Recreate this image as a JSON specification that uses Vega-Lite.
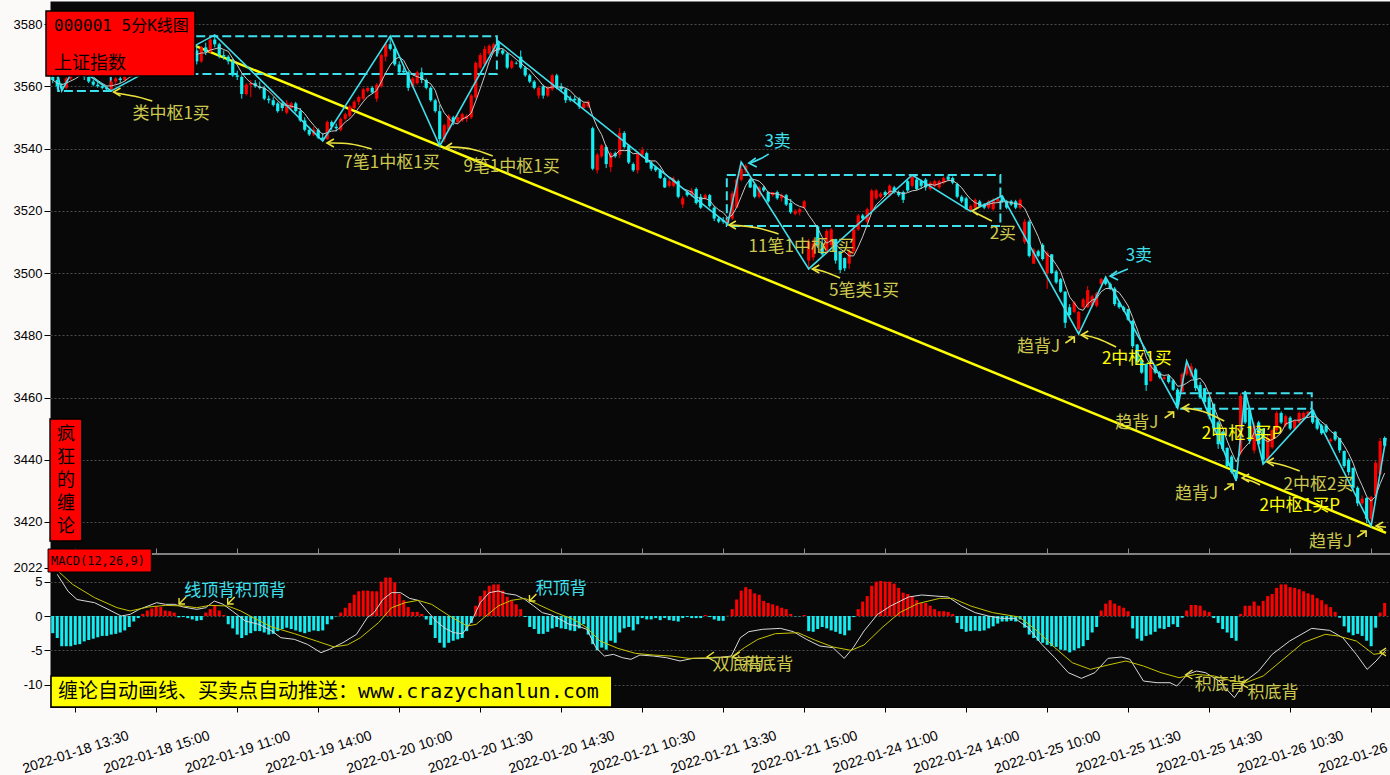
{
"$schema": "https://vega.github.io/schema/vega-lite/v6.json",
"background": "#fcf9f9",
"padding": {"left": 10, "top": 0, "right": 0, "bottom": 0},
"spacing": 1,
"bounds": "flush",
"config": {
  "view": {"fill": "#080808", "stroke": "transparent"},
  "axis": {"labelFont": "Liberation Sans", "labelColor": "#000000", "tickColor": "#000000", "domain": false},
  "text": {"font": "Noto Sans CJK SC"}
},
"datasets": {
"k": [
{"i":0,"o":3563,"h":3564,"l":3561,"c":3562,"m":-2.5},
{"i":1,"o":3562,"h":3563,"l":3559,"c":3560,"m":-3.2},
{"i":2,"o":3560,"h":3561,"l":3558.5,"c":3559.5,"m":-4.4},
{"i":3,"o":3559.5,"h":3563,"l":3559,"c":3562.5,"m":-4.4},
{"i":4,"o":3562.5,"h":3565,"l":3562,"c":3564.5,"m":-4.4},
{"i":5,"o":3564.5,"h":3566,"l":3563.5,"c":3565.5,"m":-4.2},
{"i":6,"o":3565.5,"h":3567,"l":3564,"c":3564.5,"m":-4.1},
{"i":7,"o":3564.5,"h":3565,"l":3562,"c":3563,"m":-3.7},
{"i":8,"o":3563,"h":3564,"l":3561,"c":3561.5,"m":-3.5},
{"i":9,"o":3561.5,"h":3562,"l":3560,"c":3560.5,"m":-3.3},
{"i":10,"o":3560.5,"h":3561.5,"l":3559.5,"c":3560,"m":-3.1},
{"i":11,"o":3560,"h":3561,"l":3559,"c":3559.5,"m":-2.9},
{"i":12,"o":3559.5,"h":3560,"l":3558.6,"c":3559,"m":-2.9},
{"i":13,"o":3559,"h":3562,"l":3558.5,"c":3561.5,"m":-2.7},
{"i":14,"o":3561.5,"h":3563,"l":3560.5,"c":3562.5,"m":-2.6},
{"i":15,"o":3562.5,"h":3563.5,"l":3561,"c":3562,"m":-2.4},
{"i":16,"o":3562,"h":3564,"l":3561.5,"c":3563.5,"m":-2.1},
{"i":17,"o":3563.5,"h":3565,"l":3563,"c":3564.5,"m":-1.6},
{"i":18,"o":3564.5,"h":3566,"l":3564,"c":3565.5,"m":-0.8},
{"i":19,"o":3565.5,"h":3567,"l":3565,"c":3566.5,"m":-0.3},
{"i":20,"o":3566.5,"h":3568,"l":3565.5,"c":3567.5,"m":0.3},
{"i":21,"o":3567.5,"h":3569,"l":3566.5,"c":3568,"m":0.8},
{"i":22,"o":3568,"h":3569.5,"l":3567,"c":3567.5,"m":1.1},
{"i":23,"o":3567.5,"h":3568.5,"l":3566,"c":3567,"m":1.4},
{"i":24,"o":3567,"h":3569,"l":3566.5,"c":3568.5,"m":1.3},
{"i":25,"o":3568.5,"h":3570,"l":3568,"c":3569.5,"m":0.8},
{"i":26,"o":3569.5,"h":3571,"l":3568.5,"c":3570,"m":0.7},
{"i":27,"o":3570,"h":3571,"l":3569,"c":3569.5,"m":0.5},
{"i":28,"o":3569.5,"h":3570.5,"l":3568.5,"c":3570,"m":-0.2},
{"i":29,"o":3570,"h":3571.5,"l":3569.5,"c":3571,"m":-0.15},
{"i":30,"o":3571,"h":3572,"l":3570,"c":3570.5,"m":-0.3},
{"i":31,"o":3570.5,"h":3572,"l":3569.5,"c":3571.5,"m":-0.5},
{"i":32,"o":3571.5,"h":3573,"l":3567,"c":3568,"m":-0.7},
{"i":33,"o":3568,"h":3573,"l":3567.5,"c":3572.5,"m":-0.6},
{"i":34,"o":3572.5,"h":3574,"l":3570,"c":3571,"m":0.5},
{"i":35,"o":3571,"h":3575.5,"l":3570.5,"c":3575,"m":1.0},
{"i":36,"o":3575,"h":3576.5,"l":3572.5,"c":3573.5,"m":1.6},
{"i":37,"o":3573.5,"h":3574,"l":3569,"c":3570,"m":0.8},
{"i":38,"o":3570,"h":3571.5,"l":3568.5,"c":3569.5,"m":0.15},
{"i":39,"o":3569.5,"h":3570,"l":3567,"c":3568,"m":-1.2},
{"i":40,"o":3568,"h":3569,"l":3563,"c":3563.5,"m":-1.8},
{"i":41,"o":3563.5,"h":3565,"l":3562,"c":3563,"m":-2.7},
{"i":42,"o":3563,"h":3563.5,"l":3556,"c":3557.5,"m":-3.2},
{"i":43,"o":3557.5,"h":3561,"l":3557,"c":3560.5,"m":-2.8},
{"i":44,"o":3560.5,"h":3562,"l":3556.5,"c":3561,"m":-2.5},
{"i":45,"o":3561,"h":3562,"l":3559.5,"c":3560,"m":-2.2},
{"i":46,"o":3560,"h":3561.5,"l":3559,"c":3559.5,"m":-2.2},
{"i":47,"o":3559.5,"h":3560,"l":3555.5,"c":3556,"m":-2.4},
{"i":48,"o":3556,"h":3557,"l":3554.5,"c":3555.5,"m":-2.7},
{"i":49,"o":3555.5,"h":3556.5,"l":3553.5,"c":3554,"m":-2.6},
{"i":50,"o":3554.5,"h":3555,"l":3551.5,"c":3552,"m":-2.2},
{"i":51,"o":3554.5,"h":3555,"l":3552,"c":3553,"m":-1.9},
{"i":52,"o":3551.5,"h":3555.5,"l":3551,"c":3554.5,"m":-1.7},
{"i":53,"o":3553,"h":3555,"l":3552.5,"c":3554.5,"m":-1.9},
{"i":54,"o":3554.5,"h":3555,"l":3551.5,"c":3552,"m":-2.1},
{"i":55,"o":3552,"h":3553,"l":3548.5,"c":3549,"m":-2.3},
{"i":56,"o":3549,"h":3550,"l":3545.5,"c":3546,"m":-2.5},
{"i":57,"o":3546,"h":3547,"l":3544,"c":3544.5,"m":-2.3},
{"i":58,"o":3544.5,"h":3547,"l":3544,"c":3546,"m":-2.1},
{"i":59,"o":3546,"h":3546.5,"l":3543,"c":3543.5,"m":-2.2},
{"i":60,"o":3543.5,"h":3545,"l":3542.4,"c":3543,"m":-2.1},
{"i":61,"o":3543,"h":3549,"l":3542.8,"c":3548.5,"m":-1.2},
{"i":62,"o":3548.5,"h":3549,"l":3546,"c":3547,"m":-0.5},
{"i":63,"o":3547,"h":3548,"l":3545.5,"c":3546.5,"m":-0.05},
{"i":64,"o":3546,"h":3550,"l":3545.5,"c":3549.5,"m":0.5},
{"i":65,"o":3549.5,"h":3551.5,"l":3549,"c":3551,"m":1.2},
{"i":66,"o":3550.5,"h":3554,"l":3550,"c":3553.5,"m":1.9},
{"i":67,"o":3553,"h":3555.5,"l":3552.5,"c":3555,"m":3.1},
{"i":68,"o":3555,"h":3557,"l":3554,"c":3556.5,"m":3.6},
{"i":69,"o":3556,"h":3559.5,"l":3555.5,"c":3559,"m":3.7},
{"i":70,"o":3558.5,"h":3559.5,"l":3558,"c":3559.5,"m":3.7},
{"i":71,"o":3559.5,"h":3560,"l":3557.5,"c":3558,"m":3.6},
{"i":72,"o":3556,"h":3561,"l":3555,"c":3560.5,"m":3.6},
{"i":73,"o":3560,"h":3570.5,"l":3559.5,"c":3570,"m":5.0},
{"i":74,"o":3569.5,"h":3574,"l":3568,"c":3573.5,"m":5.6},
{"i":75,"o":3573.5,"h":3576.1,"l":3571.5,"c":3572,"m":5.6},
{"i":76,"o":3572,"h":3572.5,"l":3566.5,"c":3567,"m":4.9},
{"i":77,"o":3567,"h":3568,"l":3564,"c":3564.5,"m":3.2},
{"i":78,"o":3565,"h":3566,"l":3564,"c":3564.5,"m":2.3},
{"i":79,"o":3564.5,"h":3565,"l":3558.5,"c":3559.5,"m":1.3},
{"i":80,"o":3560,"h":3563,"l":3559.5,"c":3562.5,"m":0.6},
{"i":81,"o":3561,"h":3565,"l":3560.5,"c":3564.5,"m":0.6},
{"i":82,"o":3564.5,"h":3566,"l":3561,"c":3562,"m":0.3},
{"i":83,"o":3562,"h":3562.5,"l":3559,"c":3559.5,"m":-0.5},
{"i":84,"o":3559.5,"h":3560,"l":3555,"c":3555.5,"m":-1.3},
{"i":85,"o":3555.5,"h":3556,"l":3551.5,"c":3552,"m":-3.2},
{"i":86,"o":3552,"h":3554,"l":3540.8,"c":3543,"m":-3.9},
{"i":87,"o":3543,"h":3548,"l":3542,"c":3547.5,"m":-4.6},
{"i":88,"o":3546,"h":3551,"l":3545.5,"c":3550.5,"m":-3.9},
{"i":89,"o":3550,"h":3550.5,"l":3547.5,"c":3548.5,"m":-3.6},
{"i":90,"o":3548.5,"h":3551,"l":3548,"c":3550,"m":-3.4},
{"i":91,"o":3549,"h":3551.5,"l":3548.5,"c":3551,"m":-3.2},
{"i":92,"o":3549.5,"h":3551,"l":3548.5,"c":3550.5,"m":-2.2},
{"i":93,"o":3550,"h":3557.5,"l":3549.5,"c":3557,"m":-1.0},
{"i":94,"o":3556.5,"h":3568,"l":3556,"c":3567.5,"m":1.5},
{"i":95,"o":3566,"h":3570.7,"l":3565.5,"c":3570,"m":2.9},
{"i":96,"o":3567,"h":3573,"l":3566.5,"c":3572,"m":3.7},
{"i":97,"o":3570.5,"h":3573.5,"l":3570,"c":3573,"m":4.4},
{"i":98,"o":3571,"h":3574,"l":3570.5,"c":3573.5,"m":4.6},
{"i":99,"o":3574,"h":3574.5,"l":3570.5,"c":3571.5,"m":4.6},
{"i":100,"o":3571.5,"h":3572,"l":3570,"c":3570.5,"m":3.7},
{"i":101,"o":3570.5,"h":3571,"l":3565.5,"c":3566,"m":2.8},
{"i":102,"o":3566,"h":3568.5,"l":3565.5,"c":3568,"m":2.2},
{"i":103,"o":3567.5,"h":3568,"l":3567,"c":3567.3,"m":1.7},
{"i":104,"o":3569.5,"h":3571.5,"l":3565.5,"c":3566,"m":1.0},
{"i":105,"o":3566,"h":3566.5,"l":3563,"c":3563.5,"m":-0.15},
{"i":106,"o":3563.5,"h":3564,"l":3561,"c":3561.5,"m":-1.6},
{"i":107,"o":3561.5,"h":3562,"l":3559,"c":3559.5,"m":-1.9},
{"i":108,"o":3557,"h":3560,"l":3556,"c":3559.5,"m":-2.6},
{"i":109,"o":3560,"h":3560.5,"l":3556,"c":3557,"m":-2.6},
{"i":110,"o":3557,"h":3560,"l":3556.5,"c":3559.5,"m":-2.3},
{"i":111,"o":3559,"h":3564,"l":3558.5,"c":3563.5,"m":-1.8},
{"i":112,"o":3563.5,"h":3564,"l":3559,"c":3559.5,"m":-1.6},
{"i":113,"o":3560,"h":3561,"l":3558.5,"c":3559,"m":-1.8},
{"i":114,"o":3559,"h":3559.5,"l":3554.6,"c":3555.5,"m":-1.9},
{"i":115,"o":3556,"h":3557,"l":3555,"c":3555.5,"m":-2.1},
{"i":116,"o":3556,"h":3557,"l":3555,"c":3555.5,"m":-2.2},
{"i":117,"o":3556,"h":3556.5,"l":3552.7,"c":3553.5,"m":-1.8},
{"i":118,"o":3553,"h":3555,"l":3552.5,"c":3554.5,"m":-1.2},
{"i":119,"o":3553.5,"h":3555.5,"l":3553,"c":3555,"m":-2.7},
{"i":120,"o":3546.5,"h":3547,"l":3533,"c":3533.5,"m":-4.1},
{"i":121,"o":3533,"h":3538.6,"l":3532,"c":3538,"m":-5.0},
{"i":122,"o":3537.5,"h":3541.4,"l":3537,"c":3541,"m":-4.6},
{"i":123,"o":3540.5,"h":3541,"l":3533.7,"c":3535,"m":-4.9},
{"i":124,"o":3534,"h":3539,"l":3532.5,"c":3538.5,"m":-3.6},
{"i":125,"o":3538.5,"h":3539,"l":3537,"c":3537.5,"m":-3.9},
{"i":126,"o":3538,"h":3546.6,"l":3537,"c":3545,"m":-2.4},
{"i":127,"o":3545,"h":3545.6,"l":3540,"c":3540.5,"m":-1.8},
{"i":128,"o":3541,"h":3541.4,"l":3535,"c":3535.5,"m":-1.6},
{"i":129,"o":3535,"h":3535.5,"l":3532.5,"c":3533,"m":-2.1},
{"i":130,"o":3533,"h":3539,"l":3532,"c":3538.5,"m":-1.2},
{"i":131,"o":3538,"h":3540.5,"l":3537.5,"c":3539.5,"m":-0.3},
{"i":132,"o":3538.5,"h":3539,"l":3535.3,"c":3535.5,"m":-0.5},
{"i":133,"o":3535.5,"h":3536,"l":3532.8,"c":3533.5,"m":-0.5},
{"i":134,"o":3534,"h":3534.5,"l":3532.5,"c":3533,"m":-0.3},
{"i":135,"o":3533,"h":3533.5,"l":3530.2,"c":3530.5,"m":-0.6},
{"i":136,"o":3530.5,"h":3531,"l":3527.3,"c":3527.5,"m":-0.3},
{"i":137,"o":3528,"h":3530.5,"l":3527.5,"c":3529.5,"m":-0.6},
{"i":138,"o":3528,"h":3531,"l":3527.5,"c":3530,"m":-0.7},
{"i":139,"o":3529.5,"h":3530,"l":3524,"c":3524.5,"m":-0.8},
{"i":140,"o":3522,"h":3524.7,"l":3520.9,"c":3524,"m":-0.3},
{"i":141,"o":3526,"h":3526.5,"l":3524.5,"c":3525,"m":-0.15},
{"i":142,"o":3525,"h":3527.3,"l":3524.5,"c":3526.5,"m":-0.3},
{"i":143,"o":3527,"h":3527.5,"l":3522,"c":3522.5,"m":-0.3},
{"i":144,"o":3524.5,"h":3525.4,"l":3520.6,"c":3521,"m":-0.3},
{"i":145,"o":3524,"h":3525.5,"l":3523.5,"c":3525,"m":0.15},
{"i":146,"o":3525,"h":3525.4,"l":3521,"c":3521.5,"m":-0.15},
{"i":147,"o":3521,"h":3521.5,"l":3516.7,"c":3517.5,"m":-0.5},
{"i":148,"o":3517.5,"h":3518,"l":3516,"c":3516.5,"m":-0.7},
{"i":149,"o":3517,"h":3518,"l":3515.8,"c":3516.5,"m":-0.7},
{"i":150,"o":3516,"h":3517.5,"l":3515.7,"c":3517,"m":0.05},
{"i":151,"o":3517.5,"h":3526.3,"l":3517,"c":3525.5,"m":1.0},
{"i":152,"o":3521,"h":3530.5,"l":3521,"c":3530,"m":2.4},
{"i":153,"o":3530,"h":3535.6,"l":3529.5,"c":3533.5,"m":3.7},
{"i":154,"o":3533,"h":3535,"l":3532,"c":3534.5,"m":4.2},
{"i":155,"o":3530,"h":3530.5,"l":3527.3,"c":3527.5,"m":3.9},
{"i":156,"o":3528.5,"h":3528.6,"l":3524,"c":3524.5,"m":3.3},
{"i":157,"o":3524.5,"h":3528,"l":3524,"c":3527.5,"m":3.1},
{"i":158,"o":3527.5,"h":3528,"l":3526,"c":3526.5,"m":2.2},
{"i":159,"o":3526,"h":3526.3,"l":3522.5,"c":3523,"m":1.9},
{"i":160,"o":3525,"h":3526,"l":3524.5,"c":3526,"m":1.7},
{"i":161,"o":3526,"h":3526.5,"l":3523.5,"c":3524,"m":1.5},
{"i":162,"o":3524,"h":3525.5,"l":3523,"c":3525,"m":1.2},
{"i":163,"o":3525,"h":3525.4,"l":3521.5,"c":3522,"m":1.0},
{"i":164,"o":3522.5,"h":3523.8,"l":3519,"c":3519.5,"m":0.3},
{"i":165,"o":3519,"h":3520.5,"l":3518.5,"c":3520,"m":-0.05},
{"i":166,"o":3519.5,"h":3521,"l":3518.5,"c":3520.5,"m":-0.05},
{"i":167,"o":3521,"h":3523.5,"l":3520.5,"c":3523,"m":0.15},
{"i":168,"o":3504,"h":3511,"l":3501.3,"c":3510,"m":-2.2},
{"i":169,"o":3505,"h":3511,"l":3504,"c":3509.5,"m":-2.3},
{"i":170,"o":3515,"h":3515.1,"l":3508,"c":3509,"m":-1.9},
{"i":171,"o":3509.5,"h":3511,"l":3505.5,"c":3506,"m":-1.6},
{"i":172,"o":3507,"h":3514.1,"l":3506.1,"c":3513.5,"m":-1.8},
{"i":173,"o":3509,"h":3514.4,"l":3508,"c":3514,"m":-2.1},
{"i":174,"o":3510.9,"h":3511,"l":3503,"c":3504,"m":-2.3},
{"i":175,"o":3507,"h":3507.1,"l":3500,"c":3501,"m":-2.6},
{"i":176,"o":3504.8,"h":3505,"l":3500.6,"c":3501.5,"m":-2.8},
{"i":177,"o":3503,"h":3507.7,"l":3501.3,"c":3507,"m":-2.1},
{"i":178,"o":3507,"h":3514.4,"l":3506.1,"c":3514,"m":-0.15},
{"i":179,"o":3514,"h":3519,"l":3513.5,"c":3518.5,"m":1.0},
{"i":180,"o":3518.5,"h":3519,"l":3517,"c":3517.5,"m":2.1},
{"i":181,"o":3516.5,"h":3521,"l":3516,"c":3520.5,"m":2.9},
{"i":182,"o":3520,"h":3527,"l":3519.5,"c":3526.5,"m":4.4},
{"i":183,"o":3524,"h":3527,"l":3523.5,"c":3526.5,"m":5.0},
{"i":184,"o":3524.5,"h":3526,"l":3524,"c":3525.5,"m":5.1},
{"i":185,"o":3526,"h":3526.5,"l":3524.5,"c":3525,"m":5.0},
{"i":186,"o":3525,"h":3528.5,"l":3524.5,"c":3528,"m":5.0},
{"i":187,"o":3527.5,"h":3528,"l":3525.5,"c":3526,"m":4.7},
{"i":188,"o":3526,"h":3526.5,"l":3524.5,"c":3525,"m":4.1},
{"i":189,"o":3526,"h":3526.5,"l":3522.5,"c":3523.5,"m":3.4},
{"i":190,"o":3529.5,"h":3530,"l":3526,"c":3526.5,"m":3.2},
{"i":191,"o":3528,"h":3531.5,"l":3527.5,"c":3531,"m":2.9},
{"i":192,"o":3530,"h":3530.5,"l":3526.5,"c":3527,"m":2.3},
{"i":193,"o":3529.5,"h":3530,"l":3527,"c":3528,"m":1.9},
{"i":194,"o":3530,"h":3530.5,"l":3526.5,"c":3527.5,"m":1.9},
{"i":195,"o":3527,"h":3529.5,"l":3526.5,"c":3529,"m":1.5},
{"i":196,"o":3528,"h":3530,"l":3527.5,"c":3529.5,"m":1.0},
{"i":197,"o":3527.5,"h":3530,"l":3527,"c":3529.5,"m":0.7},
{"i":198,"o":3529,"h":3531,"l":3528.5,"c":3530.5,"m":0.7},
{"i":199,"o":3531,"h":3531.5,"l":3529.5,"c":3530,"m":0.6},
{"i":200,"o":3530.5,"h":3531,"l":3528.5,"c":3529,"m":0.3},
{"i":201,"o":3528.6,"h":3529,"l":3524,"c":3524.5,"m":-1.0},
{"i":202,"o":3524.5,"h":3525,"l":3522.5,"c":3523,"m":-1.9},
{"i":203,"o":3524,"h":3524.5,"l":3520.2,"c":3520.5,"m":-2.3},
{"i":204,"o":3520,"h":3522,"l":3519.8,"c":3521.5,"m":-2.2},
{"i":205,"o":3521,"h":3524,"l":3520.5,"c":3523.5,"m":-2.1},
{"i":206,"o":3523,"h":3523.5,"l":3521,"c":3521.5,"m":-2.2},
{"i":207,"o":3522,"h":3522.5,"l":3520.5,"c":3521,"m":-2.1},
{"i":208,"o":3521,"h":3523.5,"l":3520.5,"c":3523,"m":-1.8},
{"i":209,"o":3520.5,"h":3524,"l":3520,"c":3523.5,"m":-1.5},
{"i":210,"o":3523,"h":3524.5,"l":3522.5,"c":3524,"m":-1.1},
{"i":211,"o":3524.5,"h":3524.8,"l":3522.5,"c":3523,"m":-0.8},
{"i":212,"o":3523,"h":3523.5,"l":3520.5,"c":3521,"m":-0.8},
{"i":213,"o":3523,"h":3523.5,"l":3521.5,"c":3522,"m":-0.7},
{"i":214,"o":3523,"h":3523.5,"l":3520.5,"c":3521,"m":-0.8},
{"i":215,"o":3521,"h":3524,"l":3520.5,"c":3523.5,"m":-0.5},
{"i":216,"o":3510,"h":3517.3,"l":3509.3,"c":3516.5,"m":-1.7},
{"i":217,"o":3516.5,"h":3517,"l":3505,"c":3505.5,"m":-2.7},
{"i":218,"o":3503,"h":3508,"l":3502.9,"c":3507.5,"m":-3.2},
{"i":219,"o":3507,"h":3507.5,"l":3505,"c":3505.5,"m":-3.6},
{"i":220,"o":3509,"h":3509.6,"l":3504,"c":3504.5,"m":-3.9},
{"i":221,"o":3500,"h":3507.1,"l":3494.9,"c":3506.5,"m":-4.2},
{"i":222,"o":3506,"h":3506.1,"l":3499.7,"c":3500,"m":-4.4},
{"i":223,"o":3500.5,"h":3501,"l":3496.5,"c":3497,"m":-4.5},
{"i":224,"o":3498,"h":3498.4,"l":3493.6,"c":3494,"m":-4.9},
{"i":225,"o":3494,"h":3494.2,"l":3482.3,"c":3484,"m":-5.0},
{"i":226,"o":3489,"h":3490,"l":3486,"c":3486.5,"m":-5.3},
{"i":227,"o":3487.5,"h":3491,"l":3487.1,"c":3490.5,"m":-5.0},
{"i":228,"o":3482,"h":3487.8,"l":3480.4,"c":3487.5,"m":-4.7},
{"i":229,"o":3489,"h":3492,"l":3488.5,"c":3491.5,"m":-4.4},
{"i":230,"o":3489,"h":3495.8,"l":3488.8,"c":3494.5,"m":-3.5},
{"i":231,"o":3489.5,"h":3493,"l":3488.8,"c":3492.5,"m":-2.4},
{"i":232,"o":3489.5,"h":3494,"l":3489,"c":3493.5,"m":-1.6},
{"i":233,"o":3496.5,"h":3498.4,"l":3496,"c":3498,"m":0.8},
{"i":234,"o":3498,"h":3498.7,"l":3496,"c":3496.5,"m":1.8},
{"i":235,"o":3496.5,"h":3497,"l":3494.5,"c":3495,"m":2.3},
{"i":236,"o":3495,"h":3495.5,"l":3489.4,"c":3490,"m":1.8},
{"i":237,"o":3490.5,"h":3491,"l":3488.5,"c":3489,"m":1.5},
{"i":238,"o":3489,"h":3489.5,"l":3487.5,"c":3488,"m":1.2},
{"i":239,"o":3488.4,"h":3488.5,"l":3484.6,"c":3485,"m":0.7},
{"i":240,"o":3484.6,"h":3485,"l":3475.9,"c":3476.5,"m":-1.8},
{"i":241,"o":3477,"h":3477.2,"l":3470.8,"c":3471.5,"m":-3.3},
{"i":242,"o":3472,"h":3472.7,"l":3467.6,"c":3468,"m":-3.6},
{"i":243,"o":3470.8,"h":3471,"l":3462.1,"c":3464,"m":-2.9},
{"i":244,"o":3465.3,"h":3470.8,"l":3465,"c":3470.5,"m":-2.7},
{"i":245,"o":3470,"h":3470.5,"l":3467.5,"c":3468,"m":-2.3},
{"i":246,"o":3468,"h":3468.5,"l":3466,"c":3466.5,"m":-1.8},
{"i":247,"o":3466,"h":3467,"l":3465.5,"c":3466.5,"m":-1.9},
{"i":248,"o":3467,"h":3467.5,"l":3464.5,"c":3465,"m":-1.6},
{"i":249,"o":3465.5,"h":3466,"l":3462.1,"c":3462.5,"m":-1.2},
{"i":250,"o":3462.5,"h":3463,"l":3456.6,"c":3457.5,"m":-1.6},
{"i":251,"o":3462,"h":3468,"l":3461.5,"c":3467.5,"m":-0.25},
{"i":252,"o":3467.5,"h":3471.7,"l":3467,"c":3470.5,"m":0.8},
{"i":253,"o":3467,"h":3471,"l":3466.5,"c":3470,"m":1.6},
{"i":254,"o":3469,"h":3469.5,"l":3462.1,"c":3463,"m":1.6},
{"i":255,"o":3464,"h":3465,"l":3459.5,"c":3460,"m":1.5},
{"i":256,"o":3463,"h":3463,"l":3457.9,"c":3458.5,"m":0.8},
{"i":257,"o":3460,"h":3460.5,"l":3453,"c":3454,"m":0.6},
{"i":258,"o":3458,"h":3458,"l":3449.2,"c":3450,"m":-0.3},
{"i":259,"o":3452,"h":3452.5,"l":3443.5,"c":3445,"m":-1.0},
{"i":260,"o":3449,"h":3449.2,"l":3442.8,"c":3443.5,"m":-1.9},
{"i":261,"o":3443.8,"h":3444,"l":3437.4,"c":3438,"m":-2.4},
{"i":262,"o":3441,"h":3441.5,"l":3435.5,"c":3436,"m":-3.2},
{"i":263,"o":3436.4,"h":3436.5,"l":3433.2,"c":3434,"m":-3.6},
{"i":264,"o":3442.2,"h":3461.4,"l":3441.5,"c":3460.5,"m":0.3},
{"i":265,"o":3461.5,"h":3462.1,"l":3451.5,"c":3452,"m":1.5},
{"i":266,"o":3456,"h":3457,"l":3445,"c":3446,"m":1.5},
{"i":267,"o":3443,"h":3452,"l":3442,"c":3451,"m":2.1},
{"i":268,"o":3452,"h":3452.5,"l":3444.5,"c":3445,"m":1.5},
{"i":269,"o":3450,"h":3450.2,"l":3438.6,"c":3440,"m":2.2},
{"i":270,"o":3440,"h":3448,"l":3439.5,"c":3447,"m":2.9},
{"i":271,"o":3444,"h":3450,"l":3443.5,"c":3449.5,"m":3.2},
{"i":272,"o":3449.5,"h":3455.6,"l":3449,"c":3455,"m":4.1},
{"i":273,"o":3455,"h":3455.5,"l":3451.5,"c":3452,"m":4.6},
{"i":274,"o":3451,"h":3454.5,"l":3450.5,"c":3454,"m":4.6},
{"i":275,"o":3453.5,"h":3454,"l":3449.5,"c":3450,"m":4.2},
{"i":276,"o":3450,"h":3453,"l":3449.5,"c":3452.5,"m":4.1},
{"i":277,"o":3452,"h":3455.5,"l":3451.5,"c":3455,"m":3.9},
{"i":278,"o":3453.5,"h":3455.5,"l":3453,"c":3455,"m":3.6},
{"i":279,"o":3454.5,"h":3455.5,"l":3454,"c":3455.5,"m":3.3},
{"i":280,"o":3456,"h":3456,"l":3451.5,"c":3452,"m":3.1},
{"i":281,"o":3453,"h":3453.5,"l":3449.5,"c":3450,"m":2.6},
{"i":282,"o":3451,"h":3451.5,"l":3448,"c":3448.5,"m":2.3},
{"i":283,"o":3451,"h":3451.5,"l":3448.6,"c":3449,"m":1.7},
{"i":284,"o":3446,"h":3447,"l":3445.5,"c":3446.5,"m":1.3},
{"i":285,"o":3449,"h":3449.2,"l":3446,"c":3446.5,"m":0.6},
{"i":286,"o":3447,"h":3447,"l":3442.2,"c":3443,"m":-0.25},
{"i":287,"o":3442.8,"h":3443,"l":3437.4,"c":3438,"m":-1.5},
{"i":288,"o":3440,"h":3440.5,"l":3435,"c":3436,"m":-2.4},
{"i":289,"o":3437.4,"h":3437.5,"l":3430,"c":3431,"m":-2.8},
{"i":290,"o":3431,"h":3431.5,"l":3425.1,"c":3426,"m":-2.6},
{"i":291,"o":3426,"h":3428.5,"l":3425.5,"c":3427.5,"m":-2.9},
{"i":292,"o":3427.7,"h":3428,"l":3419.7,"c":3421,"m":-3.6},
{"i":293,"o":3421,"h":3428.4,"l":3418.7,"c":3428,"m":-4.4},
{"i":294,"o":3428.4,"h":3439.6,"l":3428,"c":3439,"m":-1.7},
{"i":295,"o":3435.4,"h":3447,"l":3435,"c":3446,"m":0.5},
{"i":296,"o":3447,"h":3447.5,"l":3444,"c":3444.5,"m":1.9}
],
"bi": [
{"i":0.7,"p":3566},{"i":2,"p":3558.5},{"i":5,"p":3566.5},{"i":13,"p":3558.5},{"i":36,"p":3576.5},{"i":60,"p":3542.4},{"i":75,"p":3576.1},{"i":86,"p":3540.8},{"i":99,"p":3574.5},{"i":150,"p":3515.7},{"i":153,"p":3535.6},{"i":168,"p":3501.3},{"i":191,"p":3531.5},{"i":204,"p":3519.8},{"i":211,"p":3524.8},{"i":228,"p":3480.4},{"i":234,"p":3498.7},{"i":250,"p":3456.6},{"i":252,"p":3471.7},{"i":263,"p":3433.2},{"i":265,"p":3462.1},{"i":269,"p":3438.6},{"i":280,"p":3456},{"i":293,"p":3418.7},{"i":296.3,"p":3447}
],
"box": [
{"i1":1.2,"i2":12.9,"p1":3558.5,"p2":3567},
{"i1":29,"i2":98.7,"p1":3563.9,"p2":3576.1},
{"i1":149.8,"i2":210.6,"p1":3515.1,"p2":3531.5},
{"i1":249.8,"i2":279.8,"p1":3456.4,"p2":3461.35}
],
"trend": [{"i":25,"p":3576.9},{"i":296.3,"p":3416.5}],
"arr": [
{"a":1,"o":0,"i":22.12,"p":3555.26,"k":"a"},{"a":1,"o":1,"i":18.37,"p":3556.87,"k":"a"},{"a":1,"o":2,"i":13.96,"p":3557.83,"k":"a"},
{"a":2,"o":0,"i":70.87,"p":3539.84,"k":"a"},{"a":2,"o":1,"i":66.24,"p":3541.77,"k":"a"},{"a":2,"o":2,"i":61.38,"p":3541.77,"k":"a"},
{"a":3,"o":0,"i":97.78,"p":3537.59,"k":"a"},{"a":3,"o":1,"i":93.36,"p":3540.16,"k":"a"},{"a":3,"o":2,"i":87.85,"p":3540.48,"k":"a"},
{"a":4,"o":0,"i":159.1,"p":3538.23,"k":"c"},{"a":4,"o":1,"i":157.33,"p":3536.63,"k":"c"},{"a":4,"o":2,"i":155.13,"p":3535.34,"k":"c"},
{"a":5,"o":0,"i":161.31,"p":3512.53,"k":"a"},{"a":5,"o":1,"i":156.68,"p":3514.78,"k":"a"},{"a":5,"o":2,"i":150.72,"p":3515.42,"k":"a"},
{"a":6,"o":0,"i":174.98,"p":3498.39,"k":"a"},{"a":6,"o":1,"i":171.23,"p":3500.64,"k":"a"},{"a":6,"o":2,"i":169.24,"p":3501.28,"k":"a"},
{"a":7,"o":0,"i":208.73,"p":3516.71,"k":"a"},{"a":7,"o":1,"i":206.52,"p":3518.31,"k":"a"},{"a":7,"o":2,"i":204.76,"p":3519.6,"k":"a"},
{"a":8,"o":0,"i":238.95,"p":3501.28,"k":"c"},{"a":8,"o":1,"i":237.19,"p":3500.32,"k":"c"},{"a":8,"o":2,"i":235.42,"p":3499.03,"k":"c"},
{"a":9,"o":0,"i":225.05,"p":3477.51,"k":"a"},{"a":9,"o":1,"i":227.03,"p":3479.44,"k":"a"},
{"a":10,"o":0,"i":236.31,"p":3476.22,"k":"a"},{"a":10,"o":1,"i":232.33,"p":3479.12,"k":"a"},{"a":10,"o":2,"i":229.03,"p":3480.08,"k":"a"},
{"a":11,"o":0,"i":247.1,"p":3453.41,"k":"a"},{"a":11,"o":1,"i":249.09,"p":3455.34,"k":"a"},
{"a":12,"o":0,"i":260.35,"p":3452.45,"k":"a"},{"a":12,"o":1,"i":255.5,"p":3455.98,"k":"a"},{"a":12,"o":2,"i":251.53,"p":3456.62,"k":"a"},
{"a":13,"o":0,"i":260.35,"p":3430.28,"k":"a"},{"a":13,"o":1,"i":262.33,"p":3432.21,"k":"a"},
{"a":14,"o":0,"i":268.3,"p":3431.89,"k":"a"},{"a":14,"o":1,"i":266.54,"p":3433.17,"k":"a"},{"a":14,"o":2,"i":264.78,"p":3433.82,"k":"a"},
{"a":15,"o":0,"i":277.12,"p":3436.39,"k":"a"},{"a":15,"o":1,"i":273.59,"p":3438.32,"k":"a"},{"a":15,"o":2,"i":270.28,"p":3439.28,"k":"a"},
{"a":16,"o":0,"i":289.9,"p":3415.18,"k":"a"},{"a":16,"o":1,"i":291.88,"p":3417.1,"k":"a"},
{"a":17,"o":0,"i":296.3,"p":3418.3,"k":"a"},{"a":17,"o":1,"i":294.09,"p":3418.71,"k":"a"}
],
"heads": [
{"a":1,"o":0,"i":15.06,"p":3559.44,"k":"a"},{"a":1,"o":1,"i":13.52,"p":3558.15,"k":"a"},{"a":1,"o":2,"i":15.06,"p":3556.87,"k":"a"},
{"a":2,"o":0,"i":62.48,"p":3543.05,"k":"a"},{"a":2,"o":1,"i":60.94,"p":3541.77,"k":"a"},{"a":2,"o":2,"i":62.48,"p":3540.48,"k":"a"},
{"a":3,"o":0,"i":88.73,"p":3541.77,"k":"a"},{"a":3,"o":1,"i":87.41,"p":3540.48,"k":"a"},{"a":3,"o":2,"i":88.73,"p":3539.2,"k":"a"},
{"a":4,"o":0,"i":156.24,"p":3536.95,"k":"c"},{"a":4,"o":1,"i":154.69,"p":3535.34,"k":"c"},{"a":4,"o":2,"i":156.46,"p":3534.06,"k":"c"},
{"a":5,"o":0,"i":151.82,"p":3516.71,"k":"a"},{"a":5,"o":1,"i":150.28,"p":3515.42,"k":"a"},{"a":5,"o":2,"i":151.82,"p":3514.13,"k":"a"},
{"a":6,"o":0,"i":170.35,"p":3502.57,"k":"a"},{"a":6,"o":1,"i":168.8,"p":3501.28,"k":"a"},{"a":6,"o":2,"i":170.35,"p":3500.0,"k":"a"},
{"a":7,"o":0,"i":205.86,"p":3521.2,"k":"a"},{"a":7,"o":1,"i":204.32,"p":3519.92,"k":"a"},{"a":7,"o":2,"i":205.64,"p":3518.63,"k":"a"},
{"a":8,"o":0,"i":236.53,"p":3500.64,"k":"c"},{"a":8,"o":1,"i":234.98,"p":3499.03,"k":"c"},{"a":8,"o":2,"i":236.75,"p":3497.75,"k":"c"},
{"a":9,"o":0,"i":225.71,"p":3479.44,"k":"a"},{"a":9,"o":1,"i":227.03,"p":3479.44,"k":"a"},{"a":9,"o":2,"i":227.03,"p":3477.51,"k":"a"},
{"a":10,"o":0,"i":230.13,"p":3481.36,"k":"a"},{"a":10,"o":1,"i":228.58,"p":3480.08,"k":"a"},{"a":10,"o":2,"i":230.13,"p":3478.79,"k":"a"},
{"a":11,"o":0,"i":247.76,"p":3455.34,"k":"a"},{"a":11,"o":1,"i":249.09,"p":3455.34,"k":"a"},{"a":11,"o":2,"i":249.09,"p":3453.41,"k":"a"},
{"a":12,"o":0,"i":252.63,"p":3457.91,"k":"a"},{"a":12,"o":1,"i":251.09,"p":3456.62,"k":"a"},{"a":12,"o":2,"i":252.63,"p":3455.34,"k":"a"},
{"a":13,"o":0,"i":261.02,"p":3432.21,"k":"a"},{"a":13,"o":1,"i":262.33,"p":3432.21,"k":"a"},{"a":13,"o":2,"i":262.33,"p":3430.28,"k":"a"},
{"a":14,"o":0,"i":265.88,"p":3435.42,"k":"a"},{"a":14,"o":1,"i":264.33,"p":3434.14,"k":"a"},{"a":14,"o":2,"i":265.88,"p":3432.85,"k":"a"},
{"a":15,"o":0,"i":271.38,"p":3440.56,"k":"a"},{"a":15,"o":1,"i":269.84,"p":3439.28,"k":"a"},{"a":15,"o":2,"i":271.38,"p":3437.99,"k":"a"},
{"a":16,"o":0,"i":290.56,"p":3417.1,"k":"a"},{"a":16,"o":1,"i":291.88,"p":3417.1,"k":"a"},{"a":16,"o":2,"i":291.88,"p":3415.18,"k":"a"},
{"a":17,"o":0,"i":295.64,"p":3419.99,"k":"a"},{"a":17,"o":1,"i":294.09,"p":3418.71,"k":"a"},{"a":17,"o":2,"i":295.64,"p":3417.42,"k":"a"}
],
"lab": [
{"i":26.31,"p":3551.08,"t":"类中枢1买","k":"o"},
{"i":75.28,"p":3535.34,"t":"7笔1中枢1买","k":"o"},
{"i":101.96,"p":3534.06,"t":"9笔1中枢1买","k":"o"},
{"i":161.09,"p":3542.09,"t":"3卖","k":"c"},
{"i":166.4,"p":3508.35,"t":"11笔1中枢1买","k":"o"},
{"i":180.28,"p":3494.22,"t":"5笔类1买","k":"o"},
{"i":211.16,"p":3512.53,"t":"2买","k":"o"},
{"i":241.38,"p":3505.46,"t":"3卖","k":"c"},
{"i":219.1,"p":3476.22,"t":"趋背J","k":"o"},
{"i":240.93,"p":3472.37,"t":"2中枢1买","k":"y"},
{"i":240.93,"p":3451.8,"t":"趋背J","k":"o"},
{"i":264.3,"p":3448.27,"t":"2中枢1买P","k":"y"},
{"i":254.17,"p":3428.99,"t":"趋背J","k":"o"},
{"i":281.31,"p":3431.89,"t":"2中枢2买","k":"o"},
{"i":277.12,"p":3425.14,"t":"2中枢1买P","k":"y"},
{"i":283.95,"p":3413.58,"t":"趋背J","k":"o"}
],
"rbox": [
{"i1":-1.5,"i2":31.6,"p1":3563.3,"p2":3584.2},
{"i1":-0.6,"i2":6.46,"p1":3413.9,"p2":3453.1}
],
"ttl1": [{"i":0.3,"p":3579.36,"t":"000001  5分K线图"}],
"ttl2": [{"i":0.3,"p":3567.2,"t":"上证指数"}],
"fk": [{"i":2.93,"p":3447.95,"t":"疯\n狂\n的\n缠\n论"}],
"dif": [
{"i":1,"v":6.07},{"i":3.4,"v":3.6},{"i":5.4,"v":2.4},{"i":9.3,"v":1.94},{"i":12.3,"v":0.97},{"i":15.2,"v":0},{"i":17.2,"v":0.24},{"i":19.2,"v":0.97},{"i":23.1,"v":1.94},{"i":25.1,"v":1.7},{"i":27.1,"v":1.7},{"i":29,"v":1.31},{"i":32,"v":0.97},{"i":34,"v":1.21},{"i":35.9,"v":2.18},{"i":37.9,"v":1.7},{"i":39.9,"v":0.73},{"i":42.8,"v":-0.73},{"i":45.8,"v":-1.21},{"i":48.7,"v":-2.18},{"i":50.7,"v":-3.16},{"i":53.7,"v":-3.4},{"i":56.6,"v":-4.13},{"i":59.6,"v":-5.34},{"i":61.5,"v":-4.85},{"i":64.5,"v":-3.88},{"i":67.5,"v":-2.67},{"i":69.9,"v":-0.24},{"i":71.4,"v":0.49},{"i":73.4,"v":2.43},{"i":75.3,"v":3.4},{"i":77.3,"v":3.4},{"i":79.3,"v":2.57},{"i":81.2,"v":2.28},{"i":83.2,"v":0.73},{"i":85.2,"v":-0.73},{"i":87.2,"v":-1.8},{"i":89.1,"v":-2.43},{"i":91.1,"v":-2.57},{"i":93.1,"v":-0.73},{"i":95,"v":1.94},{"i":97,"v":3.4},{"i":99,"v":3.64},{"i":100.9,"v":3.25},{"i":102.9,"v":3.06},{"i":104.9,"v":2.43},{"i":106.9,"v":1.46},{"i":108.8,"v":0.49},{"i":110.8,"v":0.15},{"i":112.8,"v":-0.49},{"i":114.8,"v":-1.21},{"i":116.7,"v":-1.46},{"i":118.7,"v":-1.94},{"i":120.7,"v":-4.6},{"i":122.6,"v":-5.83},{"i":124.6,"v":-5.58},{"i":126.6,"v":-6.07},{"i":128.5,"v":-6.31},{"i":130.5,"v":-5.68},{"i":133.5,"v":-5.83},{"i":136.4,"v":-6.07},{"i":139.4,"v":-6.55},{"i":142.3,"v":-6.17},{"i":144.9,"v":-6.17},{"i":147.8,"v":-6.07},{"i":150.8,"v":-5.83},{"i":152.8,"v":-3.16},{"i":154.7,"v":-2.28},{"i":157.7,"v":-1.94},{"i":161.7,"v":-1.8},{"i":164.6,"v":-2.28},{"i":167.5,"v":-3.4},{"i":170.5,"v":-4.37},{"i":173.4,"v":-4.61},{"i":175.9,"v":-6.17},{"i":177.9,"v":-4.61},{"i":180.3,"v":-2.18},{"i":183.3,"v":0.24},{"i":186.2,"v":1.46},{"i":190.2,"v":2.77},{"i":193.1,"v":3.06},{"i":196.1,"v":2.91},{"i":199,"v":2.77},{"i":202,"v":1.46},{"i":205,"v":0.49},{"i":207.9,"v":0},{"i":210.9,"v":-0.34},{"i":213.8,"v":-0.34},{"i":216.8,"v":-1.7},{"i":219.8,"v":-4.13},{"i":222.7,"v":-6.07},{"i":225.7,"v":-8.25},{"i":228.6,"v":-9.08},{"i":231.6,"v":-8.25},{"i":234.5,"v":-6.17},{"i":237.5,"v":-5.97},{"i":239.4,"v":-6.31},{"i":242.4,"v":-9.47},{"i":245.4,"v":-9.71},{"i":248.3,"v":-9.71},{"i":249.8,"v":-10.2},{"i":252.2,"v":-8.5},{"i":254.2,"v":-8.01},{"i":256.2,"v":-8.25},{"i":259.2,"v":-9.47},{"i":262.6,"v":-11.89},{"i":265.1,"v":-9.47},{"i":268,"v":-8.01},{"i":271,"v":-5.58},{"i":274.9,"v":-3.64},{"i":279.8,"v":-1.8},{"i":283.8,"v":-2.09},{"i":286.7,"v":-3.16},{"i":289.7,"v":-5.58},{"i":292.1,"v":-7.77},{"i":294.1,"v":-6.55},{"i":296.3,"v":-4.9}
],
"dea": [
{"i":1,"v":6.65},{"i":4.4,"v":4.61},{"i":9.3,"v":2.67},{"i":14.3,"v":1.21},{"i":17.2,"v":0.73},{"i":21.2,"v":1.31},{"i":25.1,"v":1.55},{"i":29,"v":1.46},{"i":32,"v":1.21},{"i":34.9,"v":1.55},{"i":38.9,"v":1.46},{"i":41.8,"v":0.73},{"i":44.8,"v":-0.34},{"i":48.7,"v":-1.6},{"i":53.7,"v":-2.57},{"i":58.6,"v":-3.64},{"i":62.5,"v":-4.5},{"i":65.5,"v":-4.2},{"i":68.4,"v":-3.16},{"i":72.4,"v":-0.97},{"i":75.3,"v":1.21},{"i":78.3,"v":1.94},{"i":81.2,"v":2.28},{"i":84.2,"v":1.7},{"i":88.2,"v":0},{"i":92.1,"v":-1.46},{"i":94.1,"v":-1.21},{"i":96,"v":-0.15},{"i":99,"v":1.46},{"i":101.9,"v":2.28},{"i":104.9,"v":2.57},{"i":107.8,"v":1.7},{"i":111.8,"v":0.49},{"i":115.7,"v":-0.49},{"i":118.7,"v":-1.7},{"i":121.6,"v":-3.64},{"i":125.6,"v":-4.71},{"i":129.5,"v":-5.44},{"i":133.5,"v":-5.68},{"i":137.4,"v":-5.83},{"i":141.4,"v":-6.17},{"i":145.8,"v":-6.07},{"i":150.8,"v":-5.97},{"i":153.7,"v":-4.61},{"i":156.7,"v":-3.4},{"i":160.6,"v":-2.57},{"i":165.6,"v":-2.43},{"i":169.5,"v":-3.54},{"i":173.4,"v":-4.51},{"i":177.4,"v":-5.0},{"i":180.3,"v":-4.22},{"i":184.3,"v":-1.7},{"i":188.2,"v":0.49},{"i":192.2,"v":1.8},{"i":197.1,"v":2.57},{"i":200,"v":2.57},{"i":204,"v":1.46},{"i":208.9,"v":0.49},{"i":214.8,"v":-0.15},{"i":218.8,"v":-2.18},{"i":222.7,"v":-4.61},{"i":226.6,"v":-6.8},{"i":230.6,"v":-7.77},{"i":234.5,"v":-7.14},{"i":238.5,"v":-6.55},{"i":242.4,"v":-7.28},{"i":246.3,"v":-8.25},{"i":250.3,"v":-8.98},{"i":254.2,"v":-8.5},{"i":258.2,"v":-8.74},{"i":262.1,"v":-9.47},{"i":265.1,"v":-9.71},{"i":269,"v":-8.74},{"i":273,"v":-6.55},{"i":277.9,"v":-3.88},{"i":282.8,"v":-2.67},{"i":285.7,"v":-2.91},{"i":289.7,"v":-3.64},{"i":293.6,"v":-5.58},{"i":296.3,"v":-5.34}
],
"marr": [
{"a":1,"o":0,"i":29.61,"v":2.77},{"a":1,"o":1,"i":28.07,"v":1.75},
{"a":2,"o":0,"i":40.43,"v":2.77},{"a":2,"o":1,"i":38.88,"v":1.75},
{"a":3,"o":0,"i":107.49,"v":3.2},{"a":3,"o":1,"i":105.95,"v":2.18}
],
"mheads": [
{"a":1,"o":0,"i":28.07,"v":2.62},{"a":1,"o":1,"i":28.07,"v":1.75},{"a":1,"o":2,"i":29.39,"v":1.75},
{"a":2,"o":0,"i":38.88,"v":2.62},{"a":2,"o":1,"i":38.88,"v":1.75},{"a":2,"o":2,"i":40.2,"v":1.75},
{"a":3,"o":0,"i":105.95,"v":3.06},{"a":3,"o":1,"i":105.95,"v":2.18},{"a":3,"o":2,"i":107.27,"v":2.18},
{"a":4,"o":0,"i":146.96,"v":-5.24},{"a":4,"o":1,"i":145.42,"v":-5.97},{"a":4,"o":2,"i":146.96,"v":-6.55},
{"a":5,"o":0,"i":152.69,"v":-5.24},{"a":5,"o":1,"i":151.15,"v":-5.97},{"a":5,"o":2,"i":152.69,"v":-6.55},
{"a":6,"o":0,"i":253.29,"v":-7.86},{"a":6,"o":1,"i":251.75,"v":-8.59},{"a":6,"o":2,"i":253.29,"v":-9.17},
{"a":7,"o":0,"i":265.64,"v":-9.17},{"a":7,"o":1,"i":264.1,"v":-9.9},{"a":7,"o":2,"i":265.64,"v":-10.48},
{"a":8,"o":0,"i":296.3,"v":-4.66},{"a":8,"o":1,"i":295.0,"v":-5.24},{"a":8,"o":2,"i":296.3,"v":-5.82}
],
"mlab": [
{"i":34.9,"v":3.64,"t":"线顶背","k":"c"},
{"i":46.16,"v":3.64,"t":"积顶背","k":"c"},
{"i":112.99,"v":3.93,"t":"积顶背","k":"c"},
{"i":152.27,"v":-7.13,"t":"双底背","k":"o"},
{"i":158.89,"v":-7.13,"t":"积底背","k":"o"},
{"i":259.47,"v":-10.05,"t":"积底背","k":"o"},
{"i":271.16,"v":-11.21,"t":"积底背","k":"o"}
],
"mbox": [{"i1":-1.04,"i2":21.9,"v1":6.41,"v2":9.76}],
"mttl": [{"i":-0.38,"v":8.0,"t":"MACD(12,26,9)"}],
"ybox": [{"i1":-0.38,"i2":124.25,"v1":-13.25,"v2":-8.74}],
"yttl": [{"i":1.16,"v":-11.07,"t":"缠论自动画线、买卖点自动推送：www.crazychanlun.com"}]
},
"vconcat": [
{
"width": 1341,
"height": 552,
"encoding": {
  "x": {"field": "i", "type": "quantitative", "title": null,
        "scale": {"domain": [0.5, 296.3], "nice": false, "zero": false},
        "axis": {"values": [5,23,41,59,77,95,113,131,149,167,185,203,221,239,257,275,293], "labels": false, "ticks": true, "tickSize": -5, "tickColor": "#8a8a8a", "grid": false, "domain": false}},
  "y": {"field": "p", "type": "quantitative", "title": null,
        "scale": {"domain": [3410.04, 3587.39], "nice": false, "zero": false},
        "axis": {"values": [3420,3440,3460,3480,3500,3520,3540,3560,3580], "format": "d", "labelFontSize": 13, "tickSize": 6, "labelPadding": 2, "minExtent": 39, "maxExtent": 39, "grid": true, "gridColor": "#4a4a4a", "gridDash": [2, 2], "domain": false}}
},
"layer": [
  {"data": {"name": "trend"}, "mark": {"type": "line", "color": "#ffff00", "strokeWidth": 2.5}},
  {"data": {"name": "box"}, "mark": {"type": "rect", "filled": false, "stroke": "#3fe0ee", "strokeWidth": 2, "strokeDash": [9, 4]},
   "encoding": {
     "x": {"field": "i1", "type": "quantitative", "title": null, "scale": {"domain": [0.5, 296.3], "nice": false, "zero": false}},
     "x2": {"field": "i2"},
     "y": {"field": "p1", "type": "quantitative", "title": null, "scale": {"domain": [3410.04, 3587.39], "nice": false, "zero": false}},
     "y2": {"field": "p2"}}},
  {"data": {"name": "k"}, "mark": {"type": "rule", "strokeWidth": 1},
   "encoding": {
     "y": {"field": "l", "type": "quantitative", "title": null, "scale": {"domain": [3410.04, 3587.39], "nice": false, "zero": false}},
     "y2": {"field": "h"},
     "color": {"condition": {"test": "datum.c >= datum.o", "value": "#ff0000"}, "value": "#14eef2"}}},
  {"data": {"name": "k"}, "mark": {"type": "bar", "size": 3.2, "orient": "vertical"},
   "encoding": {
     "y": {"field": "o", "type": "quantitative", "title": null, "scale": {"domain": [3410.04, 3587.39], "nice": false, "zero": false}},
     "y2": {"field": "c"},
     "color": {"condition": {"test": "datum.c >= datum.o", "value": "#ff0000"}, "value": "#14eef2"}}},
  {"data": {"name": "k"},
   "transform": [{"window": [{"op": "mean", "field": "c", "as": "ma"}], "frame": [-4, 0], "sort": [{"field": "i"}]}],
   "mark": {"type": "line", "color": "#c8c8c8", "strokeWidth": 1},
   "encoding": {
     "y": {"field": "ma", "type": "quantitative", "title": null, "scale": {"domain": [3410.04, 3587.39], "nice": false, "zero": false}}}},
  {"data": {"name": "bi"}, "mark": {"type": "line", "color": "#3fe0ee", "strokeWidth": 1.6}},
  {"data": {"name": "arr"}, "mark": {"type": "line", "strokeWidth": 1.6, "interpolate": "basis"},
   "encoding": {
     "detail": {"field": "a", "type": "nominal"},
     "order": {"field": "o", "type": "quantitative"},
     "color": {"field": "k", "type": "nominal", "legend": null, "scale": {"domain": ["o","y","c","a"], "range": ["#cdc84e","#ffff00","#3fe0ee","#ece43c"]}}}},
  {"data": {"name": "heads"}, "mark": {"type": "line", "strokeWidth": 1.6},
   "encoding": {
     "detail": {"field": "a", "type": "nominal"},
     "order": {"field": "o", "type": "quantitative"},
     "color": {"field": "k", "type": "nominal", "legend": null, "scale": {"domain": ["o","y","c","a"], "range": ["#cdc84e","#ffff00","#3fe0ee","#ece43c"]}}}},
  {"data": {"name": "lab"}, "mark": {"type": "text", "fontSize": 17, "align": "center", "baseline": "middle"},
   "encoding": {
     "text": {"field": "t"},
     "color": {"field": "k", "type": "nominal", "legend": null, "scale": {"domain": ["o","y","c","a"], "range": ["#cdc84e","#ffff00","#3fe0ee","#ece43c"]}}}},
  {"data": {"name": "rbox"}, "mark": {"type": "rect", "fill": "#ff0000", "stroke": "#000000", "strokeWidth": 1.5},
   "encoding": {
     "x": {"field": "i1", "type": "quantitative", "title": null, "scale": {"domain": [0.5, 296.3], "nice": false, "zero": false}},
     "x2": {"field": "i2"},
     "y": {"field": "p1", "type": "quantitative", "title": null, "scale": {"domain": [3410.04, 3587.39], "nice": false, "zero": false}},
     "y2": {"field": "p2"}}},
  {"data": {"name": "ttl1"}, "mark": {"type": "text", "font": "DejaVu Sans Mono, Noto Sans CJK SC", "fontSize": 16, "align": "left", "baseline": "middle", "color": "#000000"},
   "encoding": {"text": {"field": "t"}}},
  {"data": {"name": "ttl2"}, "mark": {"type": "text", "fontSize": 18, "align": "left", "baseline": "middle", "color": "#000000"},
   "encoding": {"text": {"field": "t"}}},
  {"data": {"name": "fk"}, "mark": {"type": "text", "fontSize": 18, "align": "center", "baseline": "middle", "lineBreak": "\n", "lineHeight": 23, "color": "#000000"},
   "encoding": {"text": {"field": "t"}}}
]
},
{
"width": 1341,
"height": 153,
"encoding": {
  "x": {"field": "i", "type": "quantitative", "title": null,
        "scale": {"domain": [0.5, 296.3], "nice": false, "zero": false},
        "axis": {"values": [5,23,41,59,77,95,113,131,149,167,185,203,221,239,257,275,293],
                 "labelExpr": "['2022-01-18 13:30','2022-01-18 15:00','2022-01-19 11:00','2022-01-19 14:00','2022-01-20 10:00','2022-01-20 11:30','2022-01-20 14:30','2022-01-21 10:30','2022-01-21 13:30','2022-01-21 15:00','2022-01-24 11:00','2022-01-24 14:00','2022-01-25 10:00','2022-01-25 11:30','2022-01-25 14:30','2022-01-26 10:30','2022-01-26 13:30'][round((datum.value-5)/18)]",
                 "labelAngle": -18, "labelAlign": "center", "labelBaseline": "middle", "labelPadding": 40, "labelFontSize": 14, "labelFlush": false, "tickSize": 5, "labelOverlap": false, "labelBound": false, "domain": true, "domainColor": "#000000", "grid": false}},
  "y": {"field": "v", "type": "quantitative", "title": null,
        "scale": {"domain": [-13.25, 9.03], "nice": false, "zero": false},
        "axis": {"values": [-10, -5, 0, 5, 7], "labelExpr": "datum.value === 7 ? '2022' : '' + datum.value", "labelFontSize": 13, "tickSize": 6, "labelPadding": 2, "minExtent": 39, "maxExtent": 39, "grid": true, "gridColor": "#4a4a4a", "gridDash": [2, 2], "gridOpacity": {"condition": {"test": "datum.value === 7", "value": 0}, "value": 1}, "domain": false}}
},
"layer": [
  {"data": {"name": "k"}, "mark": {"type": "bar", "size": 3, "orient": "vertical"},
   "encoding": {
     "y": {"field": "m", "type": "quantitative", "title": null, "scale": {"domain": [-13.25, 9.03], "nice": false, "zero": false}},
     "y2": {"datum": 0},
     "color": {"condition": {"test": "datum.m >= 0", "value": "#ff0000"}, "value": "#14eef2"}}},
  {"data": {"name": "dif"}, "mark": {"type": "line", "color": "#d8d8d8", "strokeWidth": 1}},
  {"data": {"name": "dea"}, "mark": {"type": "line", "color": "#c8c400", "strokeWidth": 1}},
  {"data": {"name": "marr"}, "mark": {"type": "line", "color": "#ece43c", "strokeWidth": 1.4},
   "encoding": {"detail": {"field": "a", "type": "nominal"}, "order": {"field": "o", "type": "quantitative"}}},
  {"data": {"name": "mheads"}, "mark": {"type": "line", "color": "#ece43c", "strokeWidth": 1.4},
   "encoding": {"detail": {"field": "a", "type": "nominal"}, "order": {"field": "o", "type": "quantitative"}}},
  {"data": {"name": "mlab"}, "mark": {"type": "text", "fontSize": 17, "align": "center", "baseline": "middle"},
   "encoding": {
     "text": {"field": "t"},
     "color": {"field": "k", "type": "nominal", "legend": null, "scale": {"domain": ["o","c"], "range": ["#cdc84e","#3fe0ee"]}}}},
  {"data": {"name": "mbox"}, "mark": {"type": "rect", "fill": "#ff0000", "stroke": "#000000", "strokeWidth": 1},
   "encoding": {
     "x": {"field": "i1", "type": "quantitative", "title": null, "scale": {"domain": [0.5, 296.3], "nice": false, "zero": false}},
     "x2": {"field": "i2"},
     "y": {"field": "v1", "type": "quantitative", "title": null, "scale": {"domain": [-13.25, 9.03], "nice": false, "zero": false}},
     "y2": {"field": "v2"}}},
  {"data": {"name": "mttl"}, "mark": {"type": "text", "font": "DejaVu Sans Mono", "fontSize": 12, "align": "left", "baseline": "middle", "color": "#000000"},
   "encoding": {"text": {"field": "t"}}},
  {"data": {"name": "ybox"}, "mark": {"type": "rect", "fill": "#ffff00", "stroke": "#000000", "strokeWidth": 1.5},
   "encoding": {
     "x": {"field": "i1", "type": "quantitative", "title": null, "scale": {"domain": [0.5, 296.3], "nice": false, "zero": false}},
     "x2": {"field": "i2"},
     "y": {"field": "v1", "type": "quantitative", "title": null, "scale": {"domain": [-13.25, 9.03], "nice": false, "zero": false}},
     "y2": {"field": "v2"}}},
  {"data": {"name": "yttl"}, "mark": {"type": "text", "font": "DejaVu Sans Mono, Noto Sans CJK SC", "fontSize": 20, "align": "left", "baseline": "middle", "color": "#000000"},
   "encoding": {"text": {"field": "t"}}}
]
}
]
}
